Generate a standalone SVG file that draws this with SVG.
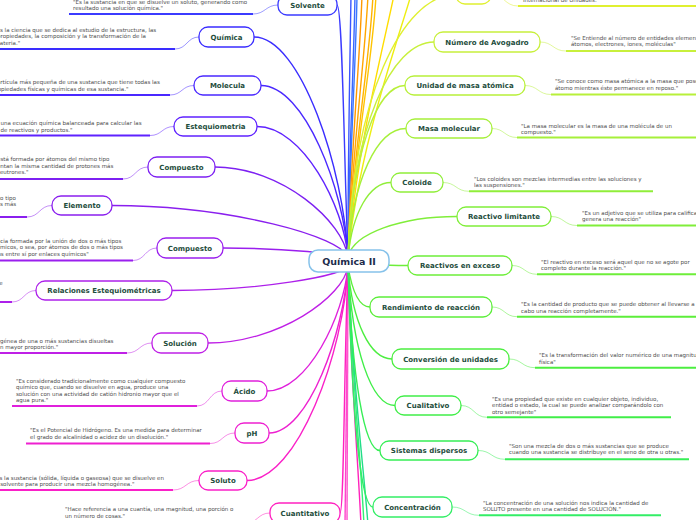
<svg xmlns="http://www.w3.org/2000/svg" width="696" height="520" viewBox="0 0 696 520">
<style>
.bg{fill:#ffffff}
.c path{fill:none;stroke-width:1.4}
.n rect{fill:#ffffff;stroke-width:1.3}
.lbl{font-family:"DejaVu Sans",Verdana,sans-serif;font-weight:bold;font-size:7px;fill:#1e4d3c;text-anchor:middle}
.d{font-family:"DejaVu Sans",Verdana,sans-serif;font-size:5.5px;fill:#4d4d4d}
.u{fill:none;stroke-width:2}
.lc{fill:none;stroke-width:1;opacity:.5}
.ctr rect{fill:#ffffff;stroke:#86c2ea;stroke-width:1.5}
.ctr text{font-family:"DejaVu Sans",Verdana,sans-serif;font-weight:bold;font-size:9.5px;fill:#1c2b4a;text-anchor:middle}
</style>
<rect class="bg" x="0" y="0" width="696" height="520"/>
<g id="connectors" class="c">
<path d="M348,258 C348,150 350,60 351,-5" stroke="#3a55ff"/>
<path d="M348,258 C349,150 354,60 355,-5" stroke="#3a66ff"/>
<path d="M348,258 C350,150 356,60 357,-5" stroke="#3a77ff"/>
<path d="M348,258 C351,150 360,60 362,-5" stroke="#ff9900"/>
<path d="M348,258 C352,150 365,60 368,-5" stroke="#ffa600"/>
<path d="M348,258 C353,150 370,60 373,-5" stroke="#ffb300"/>
<path d="M348,258 C354,150 373,60 376,-5" stroke="#ffc400"/>
<path d="M348,258 C356,150 385,40 394,-5" stroke="#ffdd00"/>
<path d="M348,258 C358,150 398,40 411,-5" stroke="#eeee11"/>
<path d="M348,266 C347,380 345,460 345,525" stroke="#ff44cc"/>
<path d="M348,266 C348,380 347,460 347,525" stroke="#ff55cc"/>
<path d="M348,266 C351,380 358,460 361,525" stroke="#ff22bb"/>
<path d="M348,266 C352,380 361,460 364,525" stroke="#33ee77"/>
<path d="M348,266 C353,390 364,470 368,525" stroke="#22dd88"/>
<path d="M337,5 C342.5,5 344,156.8 348,258" stroke="#3b3bff"/>
<path d="M254,37 C301,37 344,169.6 348,258" stroke="#3a2dff"/>
<path d="M261,85.5 C304.5,85.5 344,189.2 348,258" stroke="#4a28ff"/>
<path d="M257,126.5 C302.5,126.5 344,205.6 348,258" stroke="#5f22ff"/>
<path d="M215,167 C281.5,167 344,221.6 348,258" stroke="#7d20f2"/>
<path d="M112,205.5 C230,205.5 344,237 348,258" stroke="#8a1fee"/>
<path d="M223,248 C285.5,248 344,254 348,258" stroke="#9a1fee"/>
<path d="M172,290.5 C260,290.5 344,275.8 348,266" stroke="#ad20ea"/>
<path d="M208,343 C278,343 344,296.8 348,266" stroke="#bf20e6"/>
<path d="M267,391 C307.5,391 344,316 348,266" stroke="#e020dc"/>
<path d="M269,433 C308.5,433 344,332.8 348,266" stroke="#ee20d0"/>
<path d="M247,480.5 C297.5,480.5 344,352 348,266" stroke="#fa20c8"/>
<path d="M340,513 C344,513 344,364.8 348,266" stroke="#ff22c0"/>
<path d="M348,258 C352,99.9 402,-5.5 456,-5.5" stroke="#e0f030"/>
<path d="M348,258 C352,128.4 391,42 434,42" stroke="#c8f03c"/>
<path d="M348,258 C352,154.5 376.5,85.5 405,85.5" stroke="#b8f03a"/>
<path d="M348,258 C352,180.3 377,128.5 406,128.5" stroke="#a6f03a"/>
<path d="M348,258 C352,212.7 369.5,182.5 391,182.5" stroke="#90ee3a"/>
<path d="M348,258 C352,233.1 402.5,216.5 457,216.5" stroke="#80ee3a"/>
<path d="M348,262 C360,264 384,265.5 408,265.5" stroke="#6eee3a"/>
<path d="M348,266 C352,290.6 359,307 370,307" stroke="#5cee3a"/>
<path d="M348,266 C352,321.8 370,359 392,359" stroke="#4cee40"/>
<path d="M348,266 C352,349.7 371.5,405.5 395,405.5" stroke="#40ee48"/>
<path d="M348,266 C352,376.7 364,450.5 380,450.5" stroke="#36ee56"/>
<path d="M348,266 C352,410.6 360.5,507 373,507" stroke="#33ee66"/>
</g>

<g id="center" class="ctr">
<rect x="309" y="250" width="80" height="22" rx="9"/>
<text x="349" y="264.5">Química II</text>
</g>

<g id="solvente" class="n">
<path class="lc" d="M253,14 C265,14 266,5 278,5" stroke="#3b3bff"/>
<path class="u" d="M69,14 H253" stroke="#3b3bff"/>
<text class="d"><tspan x="73" y="3.5">"Es la sustancia en que se disuelve un soluto, generando como</tspan><tspan x="73" y="9.8">resultado una solución química."</tspan></text>
<rect x="278" y="-5" width="59" height="20" rx="9" stroke="#3b3bff"/>
<text class="lbl" x="307.5" y="7.5">Solvente</text>
</g>

<g id="quimica" class="n">
<path class="lc" d="M175,49 C187,49 187,37 199,37" stroke="#3a2dff"/>
<path class="u" d="M-5,49 H175" stroke="#3a2dff"/>
<text class="d"><tspan x="-6" y="32">"Es la ciencia que se dedica al estudio de la estructura, las</tspan><tspan x="-3" y="38.3">propiedades, la composición y la transformación de la</tspan><tspan x="-5.5" y="44.6">materia."</tspan></text>
<rect x="199" y="27" width="55" height="20" rx="9" stroke="#3a2dff"/>
<text class="lbl" x="226.5" y="39.5">Química</text>
</g>

<g id="molecula" class="n">
<path class="lc" d="M170,95 C182,95 182,85.5 194,85.5" stroke="#4a28ff"/>
<path class="u" d="M-5,95 H170" stroke="#4a28ff"/>
<text class="d"><tspan x="-6.5" y="84">partícula más pequeña de una sustancia que tiene todas las</tspan><tspan x="-8" y="90.5">propiedades físicas y químicas de esa sustancia."</tspan></text>
<rect x="194" y="76" width="67" height="19" rx="9" stroke="#4a28ff"/>
<text class="lbl" x="227.5" y="88">Molecula</text>
</g>

<g id="estequiometria" class="n">
<path class="lc" d="M150,135.5 C162,135.5 162,126.5 174,126.5" stroke="#5f22ff"/>
<path class="u" d="M-5,135.5 H150" stroke="#5f22ff"/>
<text class="d"><tspan x="0.5" y="125.3">una ecuación química balanceada para calcular las</tspan><tspan x="0.5" y="131.6">de reactivos y productos."</tspan></text>
<rect x="174" y="117" width="83" height="19" rx="9" stroke="#5f22ff"/>
<text class="lbl" x="215.5" y="129">Estequiometria</text>
</g>

<g id="compuesto1" class="n">
<path class="lc" d="M123,179 C135.5,179 135.5,167 148,167" stroke="#7d20f2"/>
<path class="u" d="M-5,179 H123" stroke="#7d20f2"/>
<text class="d"><tspan x="-3" y="161.3">está formada por átomos del mismo tipo</tspan><tspan x="-15" y="167.8">presentan la misma cantidad de protones más</tspan><tspan x="-3.5" y="174.3">neutrones."</tspan></text>
<rect x="148" y="157" width="67" height="20" rx="9" stroke="#7d20f2"/>
<text class="lbl" x="181.5" y="169.5">Compuesto</text>
</g>

<g id="elemento" class="n">
<path class="lc" d="M27,217 C39.5,217 39.5,205.5 52,205.5" stroke="#8a1fee"/>
<path class="u" d="M-5,217 H27" stroke="#8a1fee"/>
<text class="d"><tspan x="-15" y="199.8">mismo tipo</tspan><tspan x="-3.4" y="206.2">es más</tspan></text>
<rect x="52" y="196" width="60" height="19" rx="9" stroke="#8a1fee"/>
<text class="lbl" x="82" y="208">Elemento</text>
</g>

<g id="compuesto2" class="n">
<path class="lc" d="M133,260.5 C145,260.5 145,248 157,248" stroke="#9a1fee"/>
<path class="u" d="M-5,260.5 H133" stroke="#9a1fee"/>
<text class="d"><tspan x="-18" y="243">sustancia formada por la unión de dos o más tipos</tspan><tspan x="-8.5" y="249.3">químicos, o sea, por átomos de dos o más tipos</tspan><tspan x="-14.5" y="255.5">unidos entre sí por enlaces químicos"</tspan></text>
<rect x="157" y="238" width="66" height="20" rx="9" stroke="#9a1fee"/>
<text class="lbl" x="190" y="250.5">Compuesto</text>
</g>

<g id="relaciones" class="n">
<path class="lc" d="M12,302 C24,302 24,290.5 36,290.5" stroke="#ad20ea"/>
<path class="u" d="M-5,302 H12" stroke="#ad20ea"/>
<text class="d" x="-4.2" y="285">de</text>
<rect x="36" y="281" width="136" height="19" rx="9" stroke="#ad20ea"/>
<text class="lbl" x="104" y="293">Relaciones Estequiométricas</text>
</g>

<g id="solucion" class="n">
<path class="lc" d="M127,353 C139.5,353 139.5,343 152,343" stroke="#bf20e6"/>
<path class="u" d="M-5,353 H127" stroke="#bf20e6"/>
<text class="d"><tspan x="-15.6" y="342.5">homogénea de una o más sustancias disueltas</tspan><tspan x="-3.4" y="348.8">en mayor proporción."</tspan></text>
<rect x="152" y="333" width="56" height="20" rx="9" stroke="#bf20e6"/>
<text class="lbl" x="180" y="345.5">Solución</text>
</g>

<g id="acido" class="n">
<path class="lc" d="M197,406 C209.5,406 209.5,391 222,391" stroke="#e020dc"/>
<path class="u" d="M12,406 H197" stroke="#e020dc"/>
<text class="d"><tspan x="16" y="382.5">"Es considerado tradicionalmente como cualquier compuesto</tspan><tspan x="16" y="388.8">químico que, cuando se disuelve en agua, produce una</tspan><tspan x="16" y="395.5">solución con una actividad de catión hidronio mayor que el</tspan><tspan x="16" y="401.8">agua pura."</tspan></text>
<rect x="222" y="381" width="45" height="20" rx="9" stroke="#e020dc"/>
<text class="lbl" x="244.5" y="393.5">Ácido</text>
</g>

<g id="ph" class="n">
<path class="lc" d="M210,443.5 C222.5,443.5 222.5,433 235,433" stroke="#ee20d0"/>
<path class="u" d="M26,443.5 H210" stroke="#ee20d0"/>
<text class="d"><tspan x="30" y="431.5">"Es el Potencial de Hidrógeno. Es una medida para determinar</tspan><tspan x="30" y="438.8">el grado de alcalinidad o acidez de un disolución."</tspan></text>
<rect x="235" y="423" width="34" height="20" rx="9" stroke="#ee20d0"/>
<text class="lbl" x="252" y="435.5">pH</text>
</g>

<g id="soluto" class="n">
<path class="lc" d="M173,490 C186,490 186,480.5 199,480.5" stroke="#fa20c8"/>
<path class="u" d="M-5,490 H173" stroke="#fa20c8"/>
<text class="d"><tspan x="-6.5" y="480">"Es la sustancia (sólida, líquida o gaseosa) que se disuelve en</tspan><tspan x="-6.5" y="486.3">el solvente para producir una mezcla homogénea."</tspan></text>
<rect x="199" y="471" width="48" height="19" rx="9" stroke="#fa20c8"/>
<text class="lbl" x="223" y="483">Soluto</text>
</g>

<g id="cuantitativo" class="n">
<path class="lc" d="M245,523.5 C257.5,523.5 257.5,513 270,513" stroke="#ff22c0"/>
<path class="u" d="M60,523.5 H245" stroke="#ff22c0"/>
<text class="d"><tspan x="65" y="511">"Hace referencia a una cuantía, una magnitud, una porción o</tspan><tspan x="65" y="517.5">un número de cosas."</tspan></text>
<rect x="270" y="503" width="70" height="20" rx="9" stroke="#ff22c0"/>
<text class="lbl" x="305" y="515.5">Cuantitativo</text>
</g>

<g id="mol" class="n">
<path class="lc" d="M491,-5.5 C504.5,-5.5 504.5,6 518,6" stroke="#e0f030"/>
<path class="u" d="M518,6 H700" stroke="#e0f030"/>
<text class="d" x="523" y="2">Internacional de Unidades."</text>
<rect x="456" y="-15" width="35" height="19" rx="9" stroke="#e0f030"/>
</g>

<g id="avogadro" class="n">
<path class="lc" d="M540,42 C553,42 553,51 566,51" stroke="#c8f03c"/>
<path class="u" d="M566,51 H700" stroke="#c8f03c"/>
<text class="d"><tspan x="571" y="39.5">"Se Entiende al número de entidades elementales</tspan><tspan x="571" y="46">átomos, electrones, iones, moléculas"</tspan></text>
<rect x="434" y="32" width="106" height="20" rx="9" stroke="#c8f03c"/>
<text class="lbl" x="487" y="44.5">Número de Avogadro</text>
</g>

<g id="uma" class="n">
<path class="lc" d="M525,85.5 C538,85.5 538,94.5 551,94.5" stroke="#b8f03a"/>
<path class="u" d="M551,94.5 H700" stroke="#b8f03a"/>
<text class="d"><tspan x="555" y="83">"Se conoce como masa atómica a la masa que posee un</tspan><tspan x="555" y="89.5">átomo mientras éste permanece en reposo."</tspan></text>
<rect x="405" y="76" width="120" height="19" rx="9" stroke="#b8f03a"/>
<text class="lbl" x="465" y="88">Unidad de masa atómica</text>
</g>

<g id="masa-molecular" class="n">
<path class="lc" d="M492,128.5 C504.5,128.5 504.5,137.5 517,137.5" stroke="#a6f03a"/>
<path class="u" d="M517,137.5 H700" stroke="#a6f03a"/>
<text class="d"><tspan x="521" y="128">"La masa molecular es la masa de una molécula de un</tspan><tspan x="521" y="134">compuesto."</tspan></text>
<rect x="406" y="119" width="86" height="19" rx="9" stroke="#a6f03a"/>
<text class="lbl" x="449" y="131">Masa molecular</text>
</g>

<g id="coloide" class="n">
<path class="lc" d="M443,182.5 C456,182.5 456,191.3 469,191.3" stroke="#90ee3a"/>
<path class="u" d="M469,191.3 H653" stroke="#90ee3a"/>
<text class="d"><tspan x="474" y="180.7">"Los coloides son mezclas intermedias entre las soluciones y</tspan><tspan x="474" y="187">las suspensiones."</tspan></text>
<rect x="391" y="173" width="52" height="19" rx="9" stroke="#90ee3a"/>
<text class="lbl" x="417" y="185">Coloide</text>
</g>

<g id="reactivo-limitante" class="n">
<path class="lc" d="M551,216.5 C564,216.5 564,225.5 577,225.5" stroke="#80ee3a"/>
<path class="u" d="M577,225.5 H700" stroke="#80ee3a"/>
<text class="d"><tspan x="582" y="214.5">"Es un adjetivo que se utiliza para calificar</tspan><tspan x="582" y="221">genera una reacción"</tspan></text>
<rect x="457" y="207" width="94" height="19" rx="9" stroke="#80ee3a"/>
<text class="lbl" x="504" y="219">Reactivo limitante</text>
</g>

<g id="reactivos-exceso" class="n">
<path class="lc" d="M512,265.5 C524.5,265.5 524.5,274.3 537,274.3" stroke="#6eee3a"/>
<path class="u" d="M537,274.3 H700" stroke="#6eee3a"/>
<text class="d"><tspan x="541" y="263.5">"El reactivo en exceso será aquel que no se agote por</tspan><tspan x="541" y="270.3">completo durante la reacción."</tspan></text>
<rect x="408" y="256" width="104" height="19" rx="9" stroke="#6eee3a"/>
<text class="lbl" x="460" y="268">Reactivos en exceso</text>
</g>

<g id="rendimiento" class="n">
<path class="lc" d="M492,307 C504.5,307 504.5,316.7 517,316.7" stroke="#5cee3a"/>
<path class="u" d="M517,316.7 H700" stroke="#5cee3a"/>
<text class="d"><tspan x="521" y="305.5">"Es la cantidad de producto que se puede obtener al llevarse a</tspan><tspan x="521" y="312.7">cabo una reacción completamente."</tspan></text>
<rect x="370" y="297" width="122" height="20" rx="9" stroke="#5cee3a"/>
<text class="lbl" x="431" y="309.5">Rendimiento de reacción</text>
</g>

<g id="conversion" class="n">
<path class="lc" d="M509,359 C522,359 522,367.7 535,367.7" stroke="#4cee40"/>
<path class="u" d="M535,367.7 H700" stroke="#4cee40"/>
<text class="d"><tspan x="539" y="357">"Es la transformación del valor numérico de una magnitud</tspan><tspan x="539" y="364">física"</tspan></text>
<rect x="392" y="349" width="117" height="20" rx="9" stroke="#4cee40"/>
<text class="lbl" x="450.5" y="361.5">Conversión de unidades</text>
</g>

<g id="cualitativo" class="n">
<path class="lc" d="M461,405.5 C474,405.5 474,417.3 487,417.3" stroke="#40ee48"/>
<path class="u" d="M487,417.3 H671" stroke="#40ee48"/>
<text class="d"><tspan x="492" y="400.5">"Es una propiedad que existe en cualquier objeto, individuo,</tspan><tspan x="492" y="407">entidad o estado, la cual se puede analizar comparándolo con</tspan><tspan x="492" y="413.7">otro semejante"</tspan></text>
<rect x="395" y="396" width="66" height="19" rx="9" stroke="#40ee48"/>
<text class="lbl" x="428" y="408">Cualitativo</text>
</g>

<g id="sistemas-dispersos" class="n">
<path class="lc" d="M478,450.5 C491.5,450.5 491.5,459.3 505,459.3" stroke="#36ee56"/>
<path class="u" d="M505,459.3 H689" stroke="#36ee56"/>
<text class="d"><tspan x="509" y="448">"Son una mezcla de dos o más sustancias que se produce</tspan><tspan x="509" y="454.3">cuando una sustancia se distribuye en el seno de otra u otras."</tspan></text>
<rect x="380" y="441" width="98" height="19" rx="9" stroke="#36ee56"/>
<text class="lbl" x="429" y="453">Sistemas dispersos</text>
</g>

<g id="concentracion" class="n">
<path class="lc" d="M452,507 C465.5,507 465.5,515.3 479,515.3" stroke="#33ee66"/>
<path class="u" d="M479,515.3 H661" stroke="#33ee66"/>
<text class="d"><tspan x="483" y="505">"La concentración de una solución nos indica la cantidad de</tspan><tspan x="483" y="511.3">SOLUTO presente en una cantidad de SOLUCIÓN."</tspan></text>
<rect x="373" y="497" width="79" height="20" rx="9" stroke="#33ee66"/>
<text class="lbl" x="412.5" y="509.5">Concentración</text>
</g>
</svg>
